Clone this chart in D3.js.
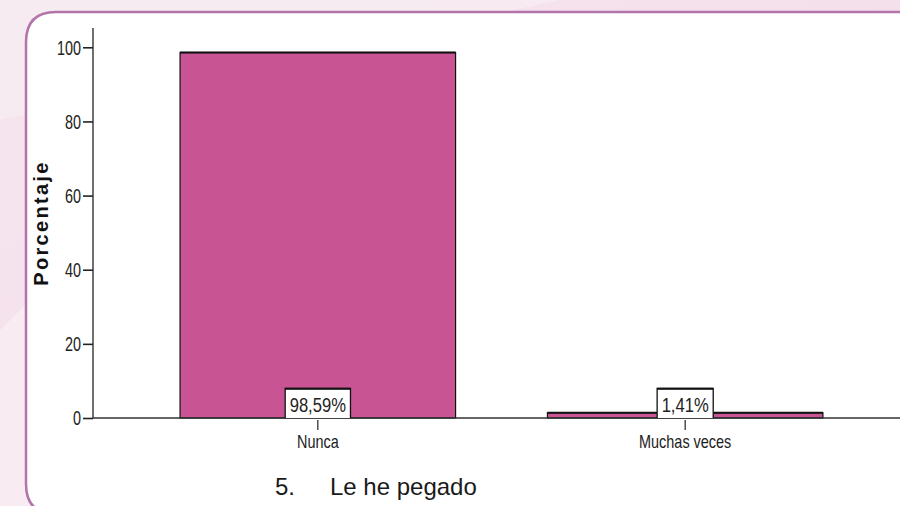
<!DOCTYPE html>
<html><head><meta charset="utf-8">
<script src="https://cdn.jsdelivr.net/npm/d3@7"></script>
<style>html,body{margin:0;padding:0;background:#fff;}svg{display:block;}</style>
</head><body>
<svg id="chart" width="900" height="506"></svg>
<script>
const categories = ["Nunca", "Muchas veces"];
const values = [98.59, 1.41];
const valueLabels = ["98,59%", "1,41%"];
const yTicks = [0, 20, 40, 60, 80, 100];
const yTitle = "Porcentaje";
const caption = ["5.", "Le he pegado"];

const svg = d3.select("#chart");
const sans = "'Liberation Sans',Arial,sans-serif";

// squeeze text horizontally to imitate a narrow font
function squeeze(sel, f) {
  sel.each(function(){
    const L = this.getComputedTextLength();
    d3.select(this).attr("textLength", L * f).attr("lengthAdjust", "spacingAndGlyphs");
  });
}

// page background
const defs = svg.append("defs");
const bg = defs.append("linearGradient").attr("id","bg").attr("x1","0").attr("y1","0").attr("x2","1").attr("y2","1");
bg.append("stop").attr("offset","0").attr("stop-color","#f6e5ee");
bg.append("stop").attr("offset","1").attr("stop-color","#f1dbe8");
svg.append("rect").attr("width",900).attr("height",506).attr("fill","url(#bg)");
svg.append("path").attr("d","M0,0 L560,0 L0,120 Z").attr("fill","#f8ecf3").attr("opacity",0.8);
svg.append("path").attr("d","M0,330 L30,300 L30,506 L0,506 Z").attr("fill","#f9eef4").attr("opacity",0.8);

// card
const cx = 26, cy = 12, r = 30, cb = 514;
svg.append("path")
  .attr("d", `M905,${cy} L${cx+r},${cy} Q${cx},${cy} ${cx},${cy+r} L${cx},${cb-r} Q${cx},${cb} ${cx+r},${cb} L905,${cb}`)
  .attr("fill","#fff").attr("stroke","#b274a9").attr("stroke-width",2.5);

// scales
const x0 = 93, yBase = 418;
const x = d3.scaleBand().domain(categories).range([x0, 910]).paddingInner(0.25).paddingOuter(0.237);
const y = d3.scaleLinear().domain([0, 100]).range([yBase, 47.3]);

const g = svg.append("g");

// bars
const bars = g.selectAll(".bar").data(categories).enter().append("g");
bars.append("rect")
  .attr("x", d => x(d)).attr("width", x.bandwidth())
  .attr("y", (d,i) => y(values[i])).attr("height", (d,i) => yBase - y(values[i]))
  .attr("fill","#c85494").attr("stroke","#111").attr("stroke-width",1.2);
bars.append("line")
  .attr("x1", d => x(d)).attr("x2", d => x(d) + x.bandwidth())
  .attr("y1", (d,i) => y(values[i])).attr("y2", (d,i) => y(values[i]))
  .attr("stroke","#111").attr("stroke-width",2);

// y axis
const yAxis = d3.axisLeft(y).tickValues(yTicks).tickSize(10).tickPadding(2).tickFormat(d3.format("d"));
const ya = g.append("g").attr("transform",`translate(${x0},0)`).call(yAxis);
ya.select(".domain").remove();
ya.selectAll(".tick line").attr("stroke","#222").attr("stroke-width",1.6);
ya.selectAll(".tick text").attr("font-family",sans).attr("font-size",20).attr("fill","#222").attr("dy","0.34em")
  .call(squeeze, 0.72);
g.append("line").attr("x1",x0).attr("x2",x0).attr("y1",28).attr("y2",yBase).attr("stroke","#222").attr("stroke-width",1.3);

// x axis
const xAxis = d3.axisBottom(x).tickSize(10).tickPadding(5);
const xa = g.append("g").attr("transform",`translate(0,${yBase+2})`).call(xAxis);
xa.select(".domain").remove();
xa.selectAll(".tick line").attr("stroke","#222").attr("stroke-width",1.2);
xa.selectAll(".tick text").attr("font-family",sans).attr("font-size",18.5).attr("fill","#222")
  .call(squeeze, 0.78);
g.append("line").attr("x1",x0).attr("x2",900).attr("y1",yBase).attr("y2",yBase).attr("stroke","#333").attr("stroke-width",1.3);

// value label boxes
const lab = g.selectAll(".lab").data(categories).enter().append("g");
const texts = lab.append("text")
  .attr("x", d => x(d) + x.bandwidth()/2).attr("y", 411.5)
  .attr("text-anchor","middle").attr("font-family",sans).attr("font-size",20).attr("fill","#222")
  .text((d,i) => valueLabels[i])
  .call(squeeze, 0.83);
texts.each(function(d){
  const w = this.getComputedTextLength() + 9;
  const c = x(d) + x.bandwidth()/2;
  const p = d3.select(this.parentNode);
  p.insert("rect","text").attr("x", c - w/2).attr("y", 388.5).attr("width", w).attr("height", yBase - 388.5)
    .attr("fill","#fff").attr("stroke","none");
  p.insert("path","text").attr("d", `M${c-w/2},${yBase} L${c-w/2},388.5 L${c+w/2},388.5 L${c+w/2},${yBase}`)
    .attr("fill","none").attr("stroke","#111").attr("stroke-width",1.3);
  p.insert("line","text").attr("x1",c-w/2).attr("x2",c+w/2).attr("y1",388.8).attr("y2",388.8).attr("stroke","#111").attr("stroke-width",2);
});

// y title
svg.append("text").attr("transform","translate(48,223) rotate(-90)")
  .attr("text-anchor","middle").attr("font-family",sans)
  .attr("font-weight","bold").attr("font-size",20).attr("letter-spacing",2.3).attr("fill","#111")
  .text(yTitle);

// caption
svg.append("text").attr("x",275).attr("y",495).attr("font-family",sans)
  .attr("font-size",24).attr("fill","#1a1a1a").text(caption[0]);
svg.append("text").attr("x",330).attr("y",495).attr("font-family",sans)
  .attr("font-size",24).attr("fill","#1a1a1a").text(caption[1]);
</script>
</body></html>
